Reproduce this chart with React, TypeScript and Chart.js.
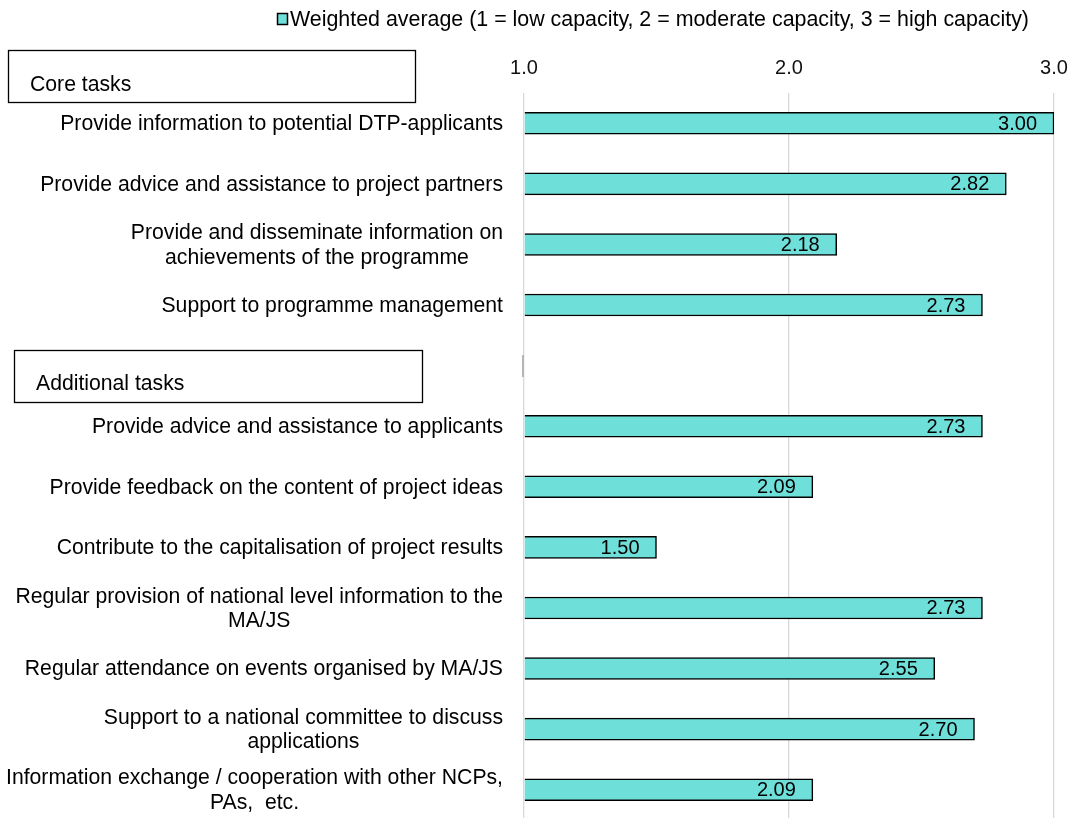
import React, { useEffect, useRef } from 'react';
import { Chart, registerables } from 'chart.js';

Chart.register(...registerables);

const FONT = '"Liberation Sans", Arial, Helvetica, sans-serif';

const categories: string[][] = [
  ['Provide information to potential DTP-applicants'],
  ['Provide advice and assistance to project partners'],
  ['Provide and disseminate information on', 'achievements of the programme'],
  ['Support to programme management'],
  [''],
  ['Provide advice and assistance to applicants'],
  ['Provide feedback on the content of project ideas'],
  ['Contribute to the capitalisation of project results'],
  ['Regular provision of national level information to the', 'MA/JS'],
  ['Regular attendance on events organised by MA/JS'],
  ['Support to a national committee to discuss', 'applications'],
  ['Information exchange / cooperation with other NCPs,', 'PAs,  etc.'],
];

const values: (number | null)[] = [3.0, 2.82, 2.18, 2.73, null, 2.73, 2.09, 1.5, 2.73, 2.55, 2.7, 2.09];

const xTickValues: number[] = [1, 2, 3];

const seriesName = 'Weighted average (1 = low capacity, 2 = moderate capacity, 3 = high capacity)';

const groupTitles: string[] = ['Core tasks', 'Additional tasks'];

const BAR_COLOR = '#6FDFDA';

const overlayPlugin = {
  id: 'overlay',
  afterDatasetsDraw(chart: any) {
    const ctx = chart.ctx;
    const meta = chart.getDatasetMeta(0);
    ctx.save();
    ctx.font = `20px ${FONT}`;
    ctx.fillStyle = '#000';
    ctx.textAlign = 'right';
    ctx.textBaseline = 'middle';
    meta.data.forEach((bar: any, i: number) => {
      const v = values[i];
      if (v == null) return;
      ctx.fillText(v.toFixed(2), bar.x - 17, bar.y + 1);
    });
    ctx.restore();
  },
  afterDraw(chart: any) {
    const ctx = chart.ctx;
    const yScale = chart.scales.y;
    ctx.save();
    // category labels
    ctx.font = `21.2px ${FONT}`;
    ctx.fillStyle = '#000';
    ctx.textAlign = 'center';
    ctx.textBaseline = 'middle';
    const right = 503;
    const lh = 24.5;
    categories.forEach((lines, i) => {
      const yc = yScale.getPixelForValue(i);
      const w = Math.max(...lines.map((l) => ctx.measureText(l).width));
      const cx = right - w / 2;
      const y0 = yc - ((lines.length - 1) * lh) / 2;
      lines.forEach((l, j) => ctx.fillText(l, cx, y0 + j * lh + 1));
    });

    // group title boxes
    ctx.strokeStyle = '#000';
    ctx.lineWidth = 1.3;
    ctx.textAlign = 'left';
    ctx.strokeRect(8.5, 50.5, 407, 52);
    ctx.fillText(groupTitles[0], 30, 85);
    ctx.strokeRect(14.5, 350.5, 408, 52);
    ctx.fillText(groupTitles[1], 36, 384);

    // small axis artifact
    ctx.fillStyle = '#b5b5b5';
    ctx.fillRect(522, 355, 2, 22);

    // legend
    ctx.font = `21.4px ${FONT}`;
    ctx.fillStyle = BAR_COLOR;
    ctx.fillRect(277, 13, 11, 12);
    ctx.strokeStyle = '#000';
    ctx.lineWidth = 1.5;
    ctx.strokeRect(277.5, 13.5, 10, 11);
    ctx.fillStyle = '#000';
    ctx.textAlign = 'left';
    ctx.fillText(seriesName, 290, 20);
    ctx.restore();
  },
};

export default function App() {
  const ref = useRef<HTMLCanvasElement | null>(null);

  useEffect(() => {
    if (!ref.current) return;
    const chart = new Chart(ref.current, {
      type: 'bar',
      data: {
        labels: categories.map((c) => c.join(' ')),
        datasets: [
          {
            label: seriesName,
            data: values as any,
            base: 1,
            backgroundColor: BAR_COLOR,
            borderColor: '#000',
            borderWidth: 1.5,
            barThickness: 22,
          } as any,
        ],
      },
      options: {
        indexAxis: 'y',
        responsive: false,
        animation: false,
        devicePixelRatio: 1,
        layout: { padding: { left: 516, right: 22, top: 43, bottom: 10 } },
        plugins: {
          legend: { display: false },
          tooltip: { enabled: false },
        },
        scales: {
          x: {
            type: 'linear',
            position: 'top',
            min: 1,
            max: 3,
            afterBuildTicks: (axis: any) => {
              axis.ticks = xTickValues.map((v) => ({ value: v }));
            },
            afterFit: (axis: any) => {
              axis.paddingLeft = 0;
              axis.paddingRight = 0;
            },
            ticks: {
              font: { family: FONT, size: 20 },
              color: '#111',
              padding: 13,
              callback: (v: any) => Number(v).toFixed(1),
            },
            grid: { color: '#d9d9d9', lineWidth: 1.3, drawTicks: false },
            border: { display: false },
          },
          y: {
            type: 'category',
            ticks: { display: false },
            grid: { display: false },
            border: { display: false },
          },
        },
      },
      plugins: [overlayPlugin],
    });
    return () => chart.destroy();
  }, []);

  return (
    <div style={{ position: 'fixed', left: 0, top: 0, width: 1076, height: 818, overflow: 'hidden', background: '#fff' }}>
      <canvas ref={ref} width={1076} height={830} style={{ width: 1076, height: 830, display: 'block' }} />
    </div>
  );
}
